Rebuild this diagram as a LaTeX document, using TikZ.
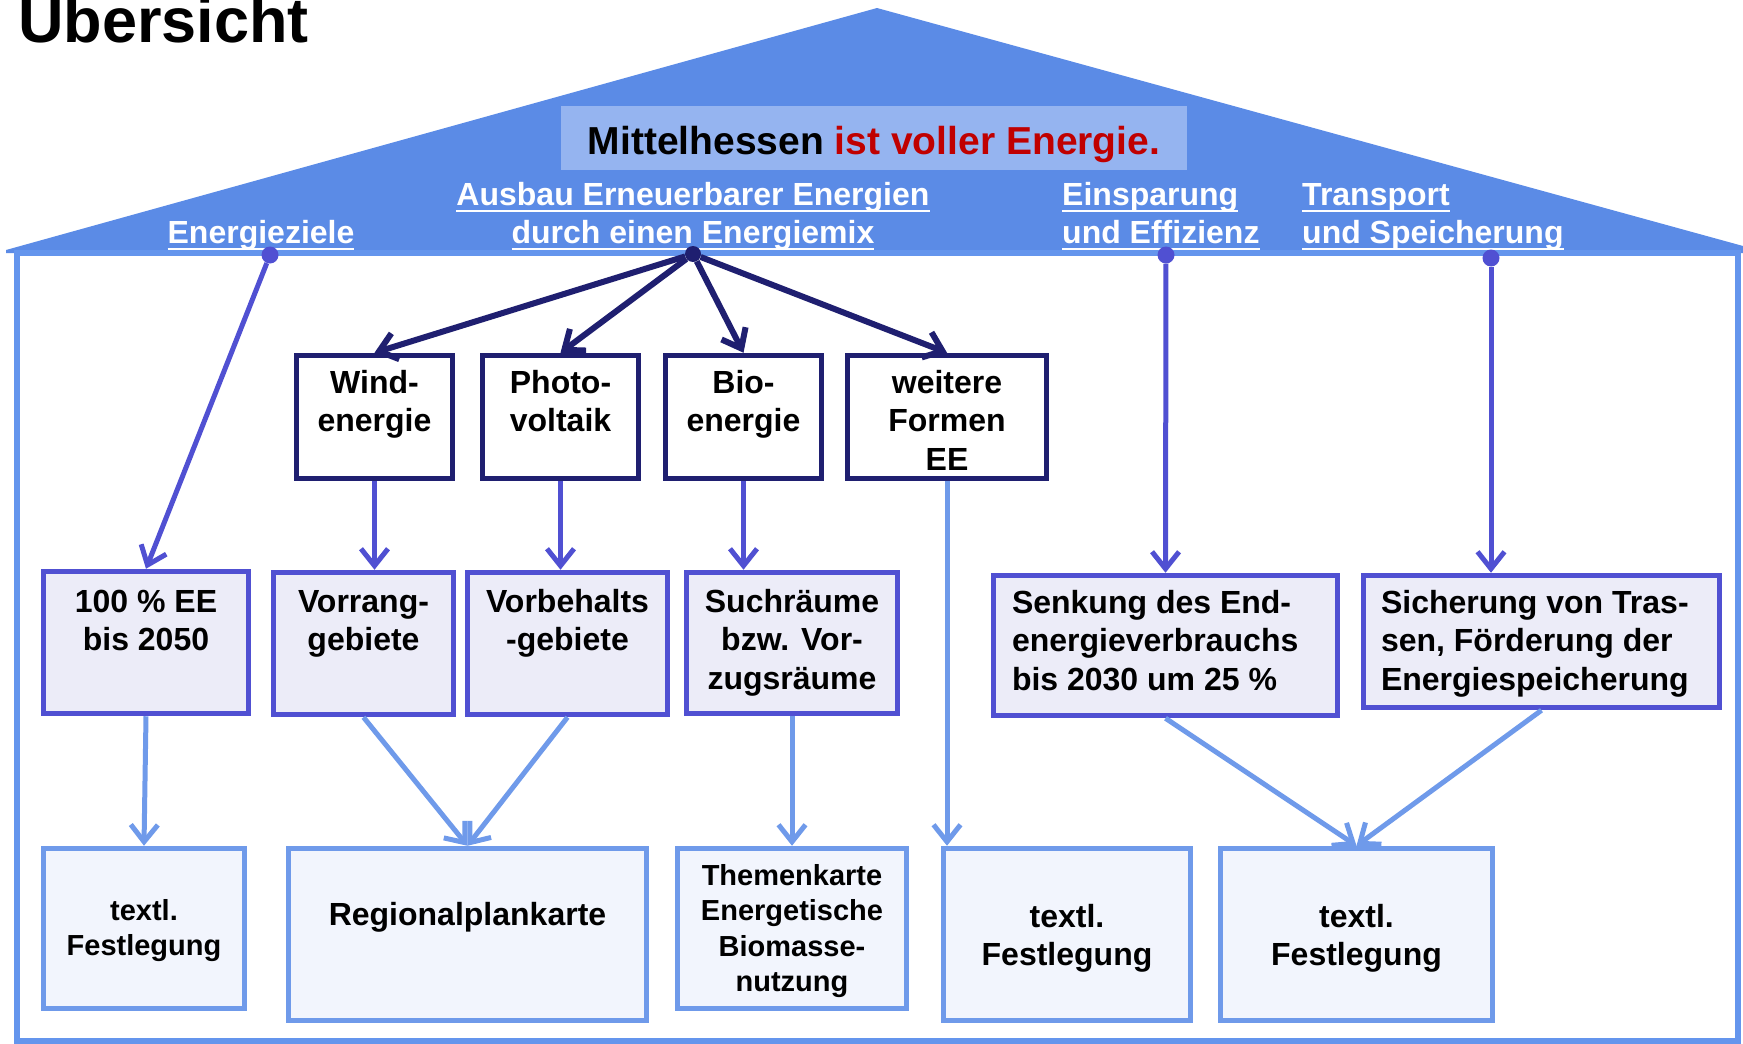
\documentclass[tikz,border=0pt]{standalone}
\usepackage{fontspec}
\setmainfont{Liberation Sans}
\usepackage{tikz}
\usetikzlibrary {arrows.meta}

\definecolor{roofblue}{RGB}{91,139,230}
\definecolor{bannerblue}{RGB}{149,180,240}
\definecolor{wallblue}{RGB}{100,149,237}
\definecolor{navyline}{RGB}{31,31,112}
\definecolor{violetline}{RGB}{80,80,210}
\definecolor{lightline}{RGB}{111,154,234}
\definecolor{lavfill}{RGB}{236,236,248}
\definecolor{palefill}{RGB}{242,245,253}
\definecolor{mhred}{RGB}{192,0,0}

\newsavebox{\ulbox}
\newcommand{\ulbar}[1]{\sbox{\ulbox}{#1}\rlap{\rule[-7pt]{\wd\ulbox}{2.5pt}}\usebox{\ulbox}}
\newcommand{\boxtext}[4]{\parbox[c][#2pt][t]{#1pt}{\selectfont\centering\rule{0pt}{#3pt}#4}}
\newcommand{\boxtextl}[4]{\parbox[c][#2pt][t]{#1pt}{\selectfont\raggedright\rule{0pt}{#3pt}#4}}
\newcommand{\pillartext}[2]{\begin{tabular}[t]{@{}#1@{}}#2\end{tabular}}

\tikzset{
  bigtext/.style={font=\fontsize{32}{38.5}\selectfont\bfseries},
  smalltext/.style={font=\fontsize{29}{35.5}\selectfont\bfseries},
  srcbox/.style={bigtext,draw=navyline,line width=5.5pt,fill=white,inner sep=0pt},
  goalbox/.style={bigtext,draw=violetline,line width=5.5pt,fill=lavfill,inner sep=0pt},
  outbox/.style={bigtext,draw=lightline,line width=5.5pt,fill=palefill,inner sep=0pt},
  pillar/.style={text=white,font=\fontsize{32}{38}\selectfont\bfseries,inner sep=0pt},
  pindot/.style={circle,fill,inner sep=0pt,minimum size=17pt},
  navyarr/.style={->,draw=navyline,line width=6pt},
  violetarr/.style={->,draw=violetline,line width=5pt},
  lightarr/.style={->,draw=lightline,line width=5pt}
}

\begin{document}
\begin{tikzpicture}[x=1pt,y=-1pt,>={Straight Barb[length=17pt,width=27pt]}]
\useasboundingbox (0,0) rectangle (1743,1044);

% Dach und Haus
\fill[roofblue] (6,250) -- (877,8) -- (1743,246) -- (1743,253) -- (6,253) -- cycle;
\draw[wallblue,line width=6pt] (17,253) rectangle (1738,1041);

\node[anchor=base west,inner sep=0pt,font=\fontsize{63}{70}\selectfont\bfseries] (title) at (18,42) {Übersicht};
\node[fill=bannerblue,minimum width=626pt,minimum height=64pt,inner sep=0pt,
      font=\fontsize{39}{44}\selectfont\bfseries,text height=34pt,text depth=2pt] (motto) at (874,138)
      {Mittelhessen \textcolor{mhred}{ist voller Energie.}};

\node[pillar,anchor=base] (ziele) at (261,243) {\ulbar{Energieziele}};
\node[pillar,anchor=base] (mix) at (693,205)
  {\pillartext{c}{\ulbar{Ausbau Erneuerbarer Energien}\\\ulbar{durch einen Energiemix}}};
\node[pillar,anchor=base west] (spar) at (1062,205)
  {\pillartext{l}{\ulbar{Einsparung}\\\ulbar{und Effizienz}}};
\node[pillar,anchor=base west] (trans) at (1302,205)
  {\pillartext{l}{\ulbar{Transport}\\\ulbar{und Speicherung}}};

\node[pindot,violetline] (dziele) at (270,255) {};
\node[pindot,navyline,minimum size=16pt] (dmix) at (693,254) {};
\node[pindot,violetline] (dspar) at (1166,255) {};
\node[pindot,violetline] (dtrans) at (1491,258) {};

% Energieformen
\node[srcbox] (wind) at (374.5,417) {\boxtext{156}{123}{37.5}{Wind-\\energie}};
\node[srcbox] (photo) at (560.5,417) {\boxtext{156}{123}{37.5}{Photo-\\voltaik}};
\node[srcbox] (bio) at (743.5,417) {\boxtext{156}{123}{37.5}{Bio-\\energie}};
\node[srcbox] (weitere) at (947,417) {\boxtext{199}{123}{37.5}{weitere\\Formen\\EE}};

% Ziele und Gebiete
\node[goalbox] (pct) at (146,642.5) {\boxtext{205}{142}{40.5}{100 \% EE\\bis 2050}};
\node[goalbox] (vorrang) at (363.5,643.5) {\boxtext{180}{142}{39.5}{Vorrang-\\gebiete}};
\node[goalbox] (vorbeh) at (567.5,643.5) {\boxtext{200}{142}{39.5}{Vorbehalts\\-gebiete}};
\node[goalbox] (such) at (792,643) {\boxtext{211}{141}{39.5}{Suchräume\\bzw. Vor-\\zugsräume}};
\node[goalbox,inner xsep=18.5pt] (senk) at (1165.5,645.5)
  {\boxtextl{307}{140}{37.5}{Senkung des End-\\energieverbrauchs\\bis 2030 um 25 \%}};
\node[goalbox,inner xsep=17.5pt] (sich) at (1541.5,641.5)
  {\boxtextl{321}{132}{37.5}{Sicherung von Tras-\\sen, Förderung der\\Energiespeicherung}};

% Festlegungen
\node[outbox,smalltext] (t1) at (144,928.5) {\boxtext{201}{160}{71.5}{textl.\\Festlegung}};
\node[outbox] (regio) at (467.5,934.5) {\boxtext{358}{172}{76.5}{Regionalplankarte}};
\node[outbox,smalltext] (themen) at (792,928.5) {\boxtext{229}{160}{36.5}{Themenkarte\\Energetische\\Biomasse-\\nutzung}};
\node[outbox] (t2) at (1067,934.5) {\boxtext{247}{172}{78.5}{textl.\\Festlegung}};
\node[outbox] (t3) at (1356.5,934.5) {\boxtext{272}{172}{78.5}{textl.\\Festlegung}};

\draw[navyarr] (dmix) -- (wind.north);
\draw[navyarr] (dmix) -- (photo.north);
\draw[navyarr] (dmix) -- (bio.north);
\draw[navyarr] (dmix) -- (weitere.north);

\draw[violetarr] (dziele) -- (pct.north);
\draw[violetarr] (wind.south) -- (wind.south |- vorrang.north);
\draw[violetarr] (photo.south) -- (photo.south |- vorbeh.north);
\draw[violetarr] (bio.south) -- (bio.south |- such.north);
\draw[violetarr] (dspar) -- (senk.north);
\draw[violetarr] (dtrans) -- (dtrans |- sich.north);

\draw[lightarr] (pct.south) -- (t1.north);
\draw[lightarr] (vorrang.south) -- (regio.north);
\draw[lightarr] (vorbeh.south) -- (regio.north);
\draw[lightarr] (such.south) -- (themen.north);
\draw[lightarr] (weitere.south) -- (weitere.south |- t2.north);
\draw[lightarr] (senk.south) -- (t3.north);
\draw[lightarr] (sich.south) -- (t3.north);
\end{tikzpicture}
\end{document}
